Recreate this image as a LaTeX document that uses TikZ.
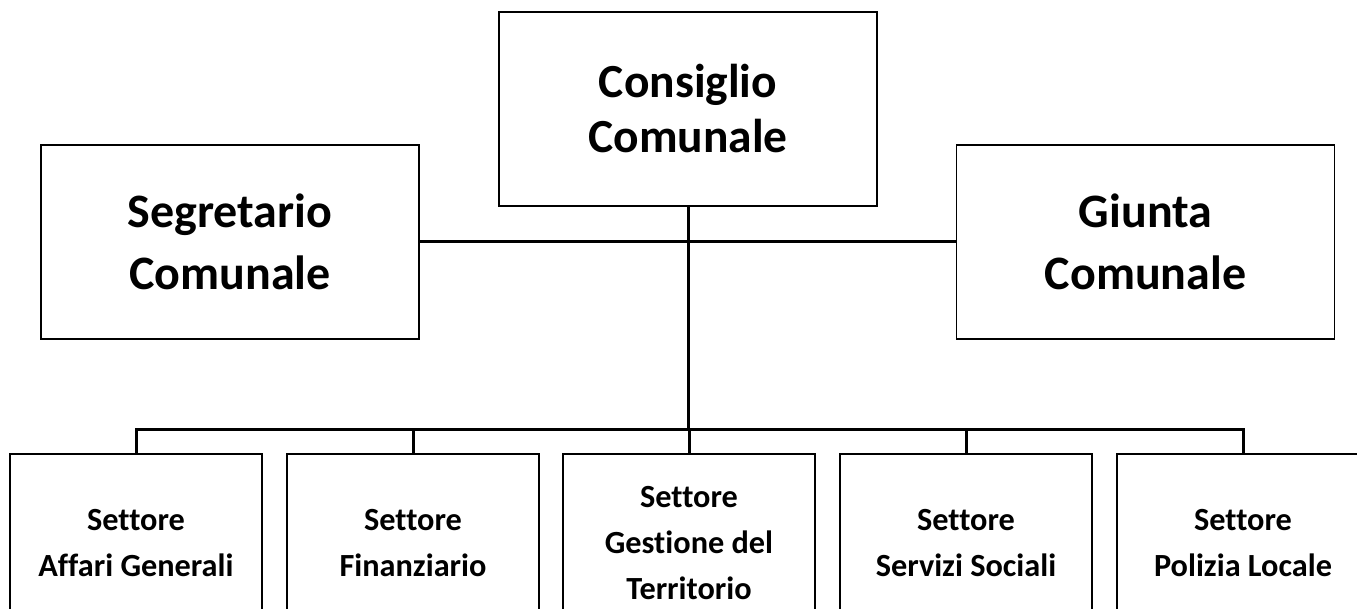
\documentclass[tikz,border=0pt]{standalone}
\usepackage{fontspec}
\setmainfont{Carlito}[Ligatures=NoCommon]
\begin{document}
\begin{tikzpicture}[x=1pt,y=-1pt,
  bigbox/.style={draw=black,line width=1.5pt,rectangle,minimum width=378pt,minimum height=194pt,inner sep=0pt,align=center,font=\fontsize{48}{62}\selectfont\bfseries},
  topbox/.style={bigbox,font=\fontsize{47.5}{55}\selectfont\bfseries},
  unitbox/.style={draw=black,line width=1.5pt,rectangle,minimum width=252pt,minimum height=179pt,inner sep=0pt,align=center,font=\fontsize{32.3}{46}\selectfont\bfseries},
  conn/.style={draw=black,line width=3pt}]
\useasboundingbox (0,0) rectangle (1357,609);
\fill[white] (0,0) rectangle (1357,609);
\clip (0,0) rectangle (1357,609);
\node[topbox] (cons) at (688,109) {Consiglio\\Comunale};
\node[bigbox] (seg) at (230,242) {Segretario\\Comunale};
\node[bigbox] (giu) at (1145.5,242) {Giunta\\Comunale};
\node[unitbox] (b1) at (136,543.5) {Settore\\Affari Generali};
\node[unitbox] (b2) at (413,543.5) {Settore\\Finanziario};
\node[unitbox] (b3) at (689,543.5) {Settore\\Gestione del\\Territorio};
\node[unitbox] (b4) at (966,543.5) {Settore\\Servizi Sociali};
\node[unitbox] (b5) at (1243,543.5) {Settore\\Polizia Locale};
\coordinate (bus) at (689,429);
\draw[conn] (seg.east) -- (giu.west);
\draw[conn] (cons.south) -- (cons.south |- bus);
\draw[conn] (b1.north) |- (b5.north |- bus) -- (b5.north);
\draw[conn] (b2.north) -- (b2.north |- bus);
\draw[conn] (b3.north) -- (b3.north |- bus);
\draw[conn] (b4.north) -- (b4.north |- bus);
\end{tikzpicture}
\end{document}
